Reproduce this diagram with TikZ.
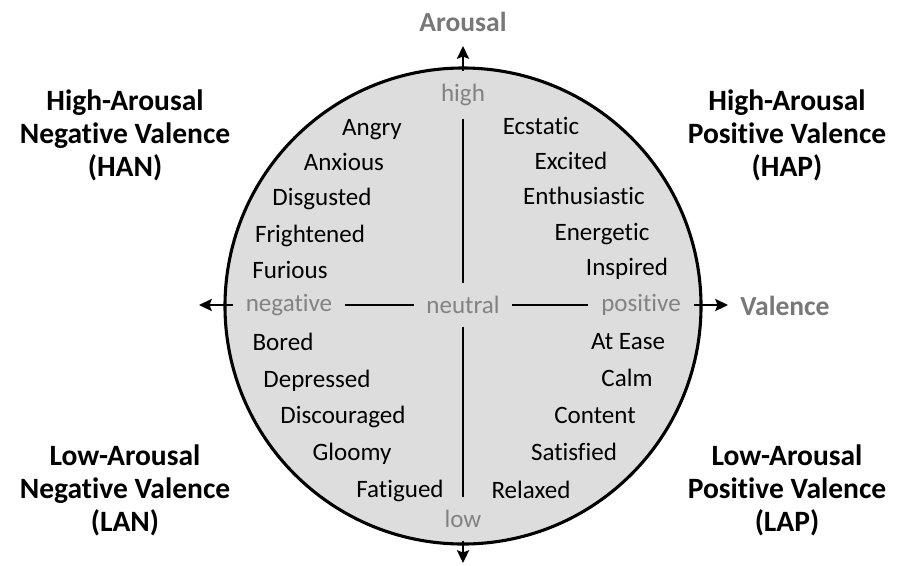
\documentclass[tikz,border=0pt]{standalone}
\usepackage{fontspec}
\setmainfont{Carlito}[Ligatures=NoCommon]
\usetikzlibrary{arrows.meta}
\definecolor{disc}{RGB}{221,221,221}
\definecolor{polegray}{RGB}{130,130,130}
\definecolor{axisgray}{RGB}{120,120,120}

\tikzset{
  word/.style={font=\fontsize{17.8}{20}\selectfont, text height=0.72em, text depth=0.2em, inner sep=0pt, yshift=-3.5pt},
  polelabel/.style={font=\fontsize{17.8}{20}\selectfont, text=polegray, inner sep=9pt},
  axisname/.style={font=\fontsize{19.6}{22}\selectfont\bfseries, text=axisgray},
  quadrant/.style={font=\fontsize{21}{23.5}\selectfont\bfseries, align=center},
  axisline/.style={line width=1.8pt},
  outarrow/.style={-{Stealth[length=9pt,width=8.5pt,inset=1.5pt]}}
}

\begin{document}
\begin{tikzpicture}[x=0.25mm, y=-0.25mm]
  \useasboundingbox (0,0) rectangle (905,565);

  % the disc
  \draw[line width=2.2pt, fill=disc] (463,306) circle [radius=59.5mm];

  % axis titles
  \node[axisname] (arousal) at (463,22) {Arousal};
  \node[axisname] (valence) at (785,306) {Valence};

  % poles on the axes
  \node[polelabel] (high) at (463,95) {high};
  \node[polelabel] (low) at (463,519) {low};
  \node[polelabel] (negative) at (289,305) {negative};
  \node[polelabel] (neutral) at (463,305) {neutral};
  \node[polelabel] (positive) at (641,305) {positive};

  \coordinate (uptip) at (463,46);
  \coordinate (downtip) at (463,563);
  \coordinate (lefttip) at (199,305);
  \coordinate (righttip) at (728,305);

  % axes
  \draw[axisline, outarrow] (high) -- (uptip);
  \draw[axisline] (high) -- (neutral);
  \draw[axisline] (neutral) -- (low);
  \draw[axisline, outarrow] (low) -- (downtip);
  \draw[axisline, outarrow] (negative) -- (lefttip);
  \draw[axisline] (negative) -- (neutral);
  \draw[axisline] (neutral) -- (positive);
  \draw[axisline, outarrow] (positive) -- (righttip);

  % quadrant names
  \node[quadrant] (han) at (125,135) {High-Arousal\\Negative Valence\\(HAN)};
  \node[quadrant] (hap) at (787,135) {High-Arousal\\Positive Valence\\(HAP)};
  \node[quadrant] (lan) at (125,490) {Low-Arousal\\Negative Valence\\(LAN)};
  \node[quadrant] (lap) at (787,490) {Low-Arousal\\Positive Valence\\(LAP)};

  % high arousal, negative
  \node[word] (angry) at (372,127) {Angry};
  \node[word] (anxious) at (344,162) {Anxious};
  \node[word] (disgusted) at (322,197) {Disgusted};
  \node[word] (frightened) at (310,234) {Frightened};
  \node[word] (furious) at (290,270) {Furious};

  % high arousal, positive
  \node[word] (ecstatic) at (541,126) {Ecstatic};
  \node[word] (excited) at (571,161) {Excited};
  \node[word] (enthusiastic) at (584,196) {Enthusiastic};
  \node[word] (energetic) at (602,232) {Energetic};
  \node[word] (inspired) at (627,267) {Inspired};

  % low arousal, negative
  \node[word] (bored) at (283,342) {Bored};
  \node[word] (depressed) at (317,379) {Depressed};
  \node[word] (discouraged) at (343,415) {Discouraged};
  \node[word] (gloomy) at (352,452) {Gloomy};
  \node[word] (fatigued) at (400,489) {Fatigued};

  % low arousal, positive
  \node[word] (atease) at (628,341) {At Ease};
  \node[word] (calm) at (627,378) {Calm};
  \node[word] (content) at (595,415) {Content};
  \node[word] (satisfied) at (574,452) {Satisfied};
  \node[word] (relaxed) at (531,490) {Relaxed};
\end{tikzpicture}
\end{document}
